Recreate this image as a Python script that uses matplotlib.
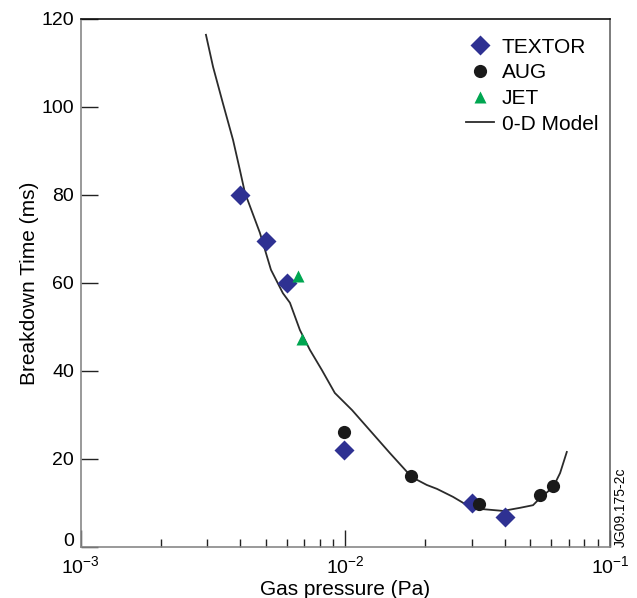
import matplotlib
matplotlib.use("Agg")
import matplotlib.pyplot as plt
from matplotlib.ticker import LogLocator, NullFormatter, MultipleLocator, FuncFormatter

plt.rcParams["font.family"] = ["Liberation Sans", "DejaVu Sans"]
plt.rcParams["mathtext.fontset"] = "custom"
plt.rcParams["mathtext.rm"] = "Liberation Sans"
plt.rcParams["mathtext.it"] = "Liberation Sans"

# measured data (pressure in Pa, breakdown time in ms)
textor_p = [0.004, 0.005, 0.006, 0.0099, 0.030, 0.040]
textor_t = [80.0, 69.6, 60.0, 22.0, 10.0, 6.8]
aug_p = [0.0099, 0.0177, 0.032, 0.0544, 0.0607]
aug_t = [26.1, 16.1, 9.8, 11.8, 13.8]
jet_p = [0.0066, 0.00685]
jet_t = [61.5, 47.3]

# 0-D model curve
model_p = [0.00297, 0.00316, 0.00344, 0.00376, 0.00399, 0.00417, 0.00475,
           0.00523, 0.00580, 0.00617, 0.00673, 0.00734, 0.00815, 0.00912,
           0.0106, 0.0147, 0.0178, 0.0203, 0.0222, 0.0255, 0.0296, 0.0331,
           0.0394, 0.0457, 0.0512, 0.0544, 0.0610, 0.0648, 0.0687]
model_t = [116.4, 109.1, 100.9, 92.5, 85.7, 80.5, 71.4,
           63.0, 57.7, 55.5, 49.3, 44.8, 40.2, 35.0,
           31.1, 21.4, 15.9, 14.1, 13.2, 11.4, 9.1, 8.6,
           8.2, 8.9, 9.5, 11.1, 13.6, 16.8, 21.6]

fig = plt.figure(figsize=(6.37, 5.98), dpi=100)
ax = fig.add_axes([0.127, 0.0853, 0.8305, 0.883])

ax.plot(model_p, model_t, color="#2b2b2b", lw=1.3, label="0-D Model", zorder=2)
ax.plot(textor_p, textor_t, "D", color="#2e3192", ms=10, mec="none",
        label="TEXTOR", zorder=3)
ax.plot(aug_p, aug_t, "o", color="#1a1a1a", ms=9.5, mec="none",
        label="AUG", zorder=3)
ax.plot(jet_p, jet_t, "^", color="#00a651", ms=9, mec="none",
        label="JET", zorder=3)

ax.set_xscale("log")
ax.set_xlim(1e-3, 1e-1)
ax.set_ylim(0, 120)
ax.yaxis.set_major_locator(MultipleLocator(20))
# the "0" is drawn separately, slightly raised
ax.yaxis.set_major_formatter(FuncFormatter(lambda v, pos: "" if v == 0 else f"{v:.0f}"))
ax.xaxis.set_major_locator(LogLocator(base=10, numticks=5))
ax.xaxis.set_minor_locator(LogLocator(base=10, subs=range(2, 10), numticks=20))
ax.xaxis.set_minor_formatter(NullFormatter())

ax.tick_params(axis="both", which="major", direction="in", length=12,
               width=1, labelsize=14, color="#222222")
ax.tick_params(axis="x", which="minor", direction="in", length=6, width=1,
               color="#222222")
ax.tick_params(axis="x", which="major", pad=6)
ax.tick_params(axis="y", which="major", pad=5)

ax.annotate("0", xy=(0, 0), xycoords=("axes fraction", "data"),
            xytext=(-5, 4), textcoords="offset points",
            ha="right", va="center", fontsize=14)

for side in ["left", "bottom"]:
    ax.spines[side].set_color("#888888")
ax.spines["right"].set_color("#666666")
ax.spines["top"].set_color("#111111")
for sp in ax.spines.values():
    sp.set_linewidth(1.2)

ax.set_xlabel("Gas pressure (Pa)", fontsize=15, labelpad=2)
ax.set_ylabel("Breakdown Time (ms)", fontsize=15, labelpad=2)

handles, labels = ax.get_legend_handles_labels()
order = [1, 2, 3, 0]
ax.legend([handles[i] for i in order], [labels[i] for i in order],
          loc="upper right", frameon=False, fontsize=15, handlelength=1.35,
          handletextpad=0.35, labelspacing=0.32, borderaxespad=0.5,
          bbox_to_anchor=(1.013, 1.0))

fig.text(0.963, 0.085, "JG09.175-2c", rotation=90, fontsize=10,
         ha="left", va="bottom")

fig.savefig("out.png", dpi=100)
plt.close(fig)
